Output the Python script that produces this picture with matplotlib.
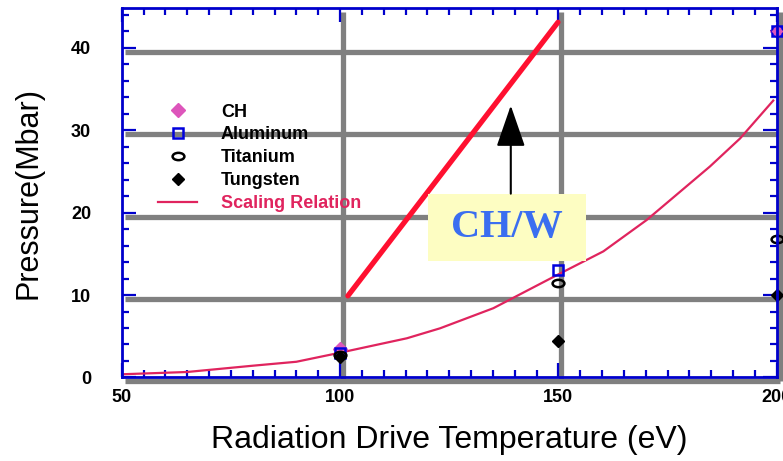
import matplotlib
matplotlib.use("Agg")
import matplotlib.pyplot as plt
import matplotlib.transforms as mtransforms
from matplotlib.patches import Rectangle
from matplotlib.ticker import MultipleLocator

# ---- data ----
temp_pts = [100, 150, 200]
ch_vals = [3.5, None, 42.0]
al_vals = [3.0, 13.0, 42.0]
ti_vals = [2.7, 11.5, 16.8]
w_vals = [2.5, 4.4, 10.0]

scale_T = [50, 65, 80, 90, 100, 115.3, 122.9, 135.1, 149.6, 160.3, 170.2, 184.7, 191.6, 199.2]
scale_P = [0.38, 0.66, 1.42, 1.9, 3.0, 4.75, 5.96, 8.4, 12.4, 15.3, 19.1, 25.6, 29.0, 33.6]

chw_T = [101.8, 149.9]
chw_P = [9.9, 43.1]

arrow_T = 139.1
arrow_P = [22.3, 33.0]

box_T = [120.1, 156.3]
box_P = [14.1, 22.3]

grid_x = [100, 150, 200]
grid_y = [0, 10, 20, 30, 40]

xticks = [50, 100, 150, 200]
yticks = [0, 10, 20, 30, 40]

plt.rcParams['font.family'] = ['Liberation Sans', 'DejaVu Sans']

fig = plt.figure(figsize=(7.83, 4.61), dpi=100)
ax = fig.add_axes([0.1554, 0.1813, 0.992 - 0.1554, 0.982 - 0.1813])
ax.set_xlim(50, 200)
ax.set_ylim(0, 44.8)

blue = '#0000cc'
gray = '#808080'

# gray grid, slightly offset (as in the original)
off = mtransforms.ScaledTranslation(3 / 100, -4 / 100, fig.dpi_scale_trans)
for gx in grid_x:
    ax.plot([gx, gx], [0, 1], color=gray, lw=3.8, solid_capstyle='butt',
            transform=ax.get_xaxis_transform() + off, clip_on=False, zorder=0.5)
for gy in grid_y:
    ax.plot([0, 1], [gy, gy], color=gray, lw=3.8, solid_capstyle='butt',
            transform=ax.get_yaxis_transform() + off, clip_on=False, zorder=0.5)

# scaling relation
h_scale, = ax.plot(scale_T, scale_P, color='#e0245e', lw=1.6, zorder=2, label='Scaling Relation')
# CH/W thick line
ax.plot(chw_T, chw_P, color='#ff1030', lw=3.8, solid_capstyle='round', zorder=2)

# data points
ch_T = [t for t, v in zip(temp_pts, ch_vals) if v is not None]
ch_P = [v for v in ch_vals if v is not None]
h_ch, = ax.plot(ch_T, ch_P, 'D', color='#dd55bb', ms=7, ls='none', clip_on=False, zorder=3, label='CH')
h_al, = ax.plot(temp_pts, al_vals, 's', mfc='none', mec='#0000dd', mew=1.8, ms=7, ls='none',
                clip_on=False, zorder=4, label='Aluminum')
ti_marker = matplotlib.markers.MarkerStyle('o', transform=mtransforms.Affine2D().scale(1.0, 0.62))
h_ti, = ax.plot(temp_pts, ti_vals, marker=ti_marker, mfc='none', mec='black', mew=1.8, ms=8.5,
                ls='none', clip_on=False, zorder=5, label='Titanium')
h_w, = ax.plot(temp_pts, w_vals, 'D', color='black', ms=6, ls='none', clip_on=False, zorder=5,
               label='Tungsten')
# CH on top inside the square at 200
ax.plot(ch_T[1:], ch_P[1:], 'D', color='#dd55bb', ms=5, ls='none', clip_on=False, zorder=6)

# CH/W box and arrow
ax.add_patch(Rectangle((box_T[0], box_P[0]), box_T[1] - box_T[0], box_P[1] - box_P[0],
                       facecolor='#fdfdc2', edgecolor='none', zorder=6))
ax.text((box_T[0] + box_T[1]) / 2, (box_P[0] + box_P[1]) / 2, 'CH/W',
        family=['Liberation Serif', 'DejaVu Serif'], weight='bold', fontsize=29,
        color='#3b6ef0', ha='center', va='center', zorder=7)
ax.annotate('', xy=(arrow_T, arrow_P[1]), xytext=(arrow_T, arrow_P[0]),
            arrowprops=dict(arrowstyle='-|>,head_length=1.3,head_width=0.45',
                            mutation_scale=20, lw=1.5, color='black', shrinkA=0, shrinkB=0),
            zorder=7)

# spines and ticks
for s in ax.spines.values():
    s.set_color(blue)
    s.set_linewidth(2)
    s.set_zorder(8)
ax.set_xticks(xticks)
ax.set_yticks(yticks)
ax.xaxis.set_minor_locator(MultipleLocator(5))
ax.yaxis.set_minor_locator(MultipleLocator(2))
ax.tick_params(which='both', direction='in', color=blue, top=True, right=True, width=1.6)
ax.tick_params(which='major', length=10)
ax.tick_params(which='minor', length=5)
ax.tick_params(axis='x', which='major', pad=8, labelsize=13)
ax.tick_params(axis='y', which='major', pad=22, labelsize=13)
for lab in ax.get_xticklabels() + ax.get_yticklabels():
    lab.set_fontweight('bold')

ax.set_xlabel('Radiation Drive Temperature (eV)', fontsize=23, labelpad=14)
ax.set_ylabel('Pressure(Mbar)', fontsize=22, labelpad=20)

# legend
leg = ax.legend([h_ch, h_al, h_ti, h_w, h_scale],
                ['CH', 'Aluminum', 'Titanium', 'Tungsten', 'Scaling Relation'],
                loc='upper left', bbox_to_anchor=(0.055, 0.742), borderaxespad=0, borderpad=0,
                frameon=False, handlelength=2.2, handletextpad=1.3, labelspacing=0.33,
                prop={'weight': 'bold', 'size': 13})
for t in leg.get_texts():
    t.set_color('black')
leg.get_texts()[-1].set_color('#e0245e')
leg.set_zorder(9)

fig.savefig('out.png', dpi=100)
